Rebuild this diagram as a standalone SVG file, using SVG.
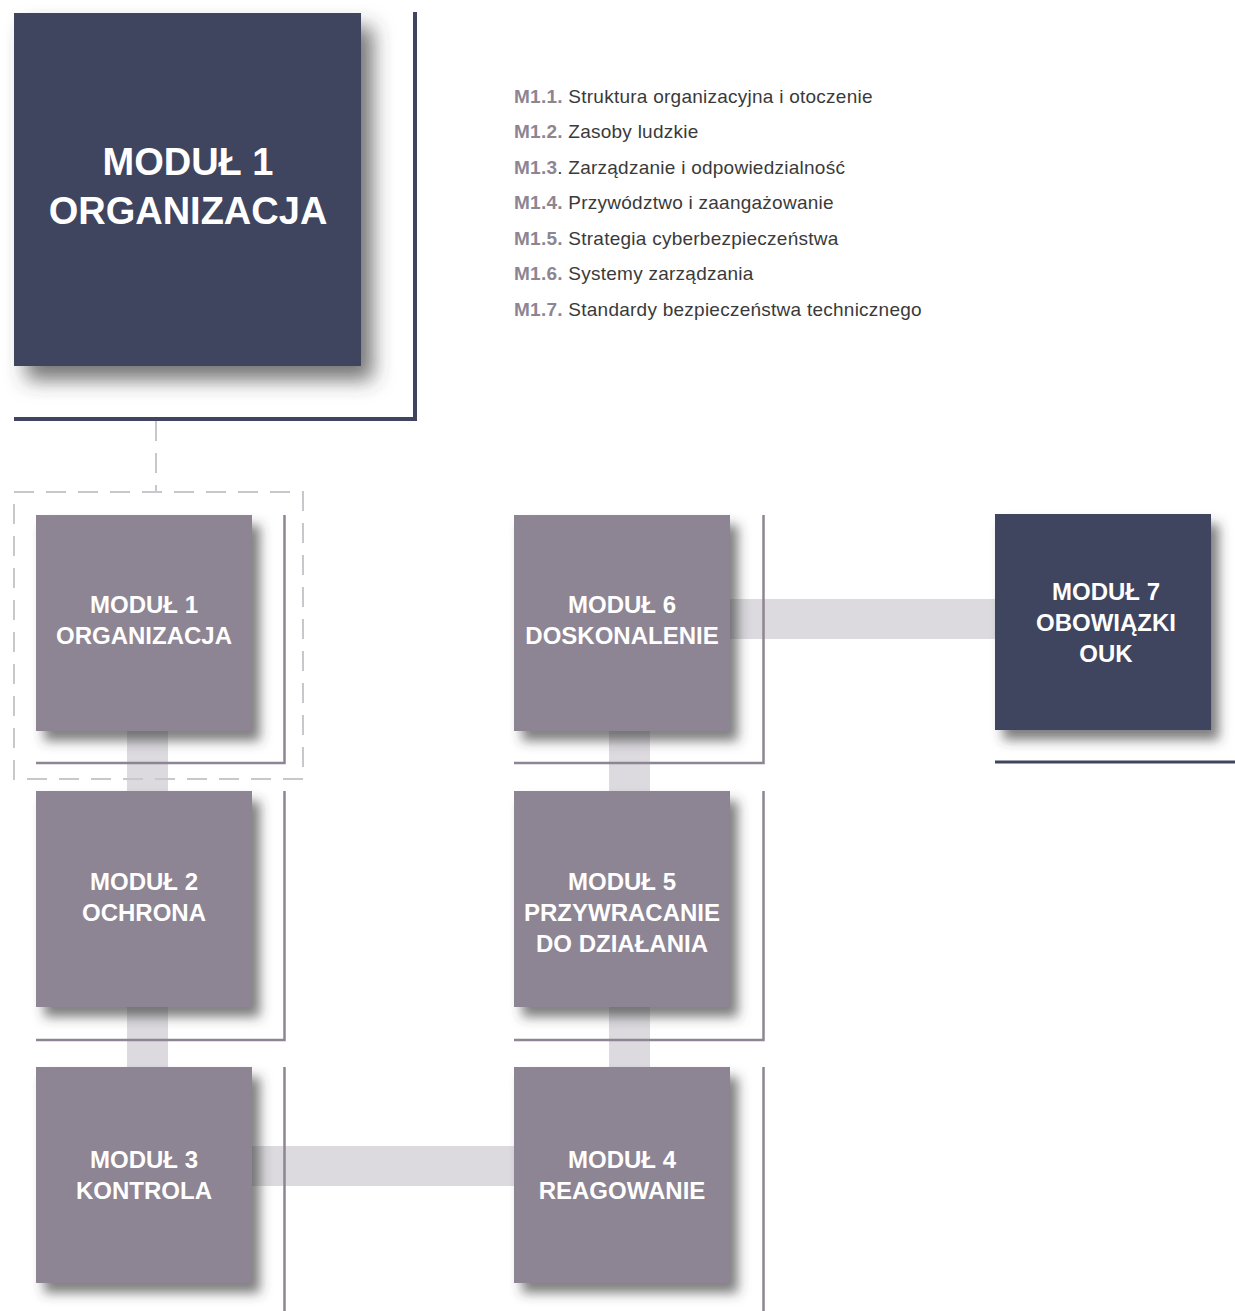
<svg xmlns="http://www.w3.org/2000/svg" width="1235" height="1311" viewBox="0 0 1235 1311">
<defs>
<filter id="shBig" x="-20%" y="-20%" width="150%" height="150%">
<feDropShadow dx="12" dy="14" stdDeviation="10" flood-color="#3a3a3a" flood-opacity="0.7"/>
</filter>
<filter id="sh" x="-20%" y="-20%" width="150%" height="150%">
<feDropShadow dx="8" dy="10" stdDeviation="6" flood-color="#3a3a3a" flood-opacity="0.65"/>
</filter>
</defs>
<style>
.navy{fill:#40445f}
.gray{fill:#8d8593}
.bar{fill:#dcdadf}
.fnavy{fill:none;stroke:#40445f;stroke-width:4}
.fgray{fill:none;stroke:#8d8593;stroke-width:2.5}
.dash{fill:none;stroke:#c9c7cc;stroke-width:2;stroke-dasharray:20 12}
.t{font-family:"Liberation Sans",Arial,sans-serif;font-weight:bold;fill:#ffffff;text-anchor:middle}
.tb{font-size:38px}
.ts{font-size:24px}
.li{font-family:"Liberation Sans",Arial,sans-serif;font-size:19px;letter-spacing:0.25px;fill:#3a3a3a}
.lk{font-weight:bold;fill:#8d8593}
</style>
<rect width="1235" height="1311" fill="#ffffff"/>

<g id="connectors">
<rect class="bar" x="127" y="725" width="41" height="72"/>
<rect class="bar" x="127" y="1000" width="41" height="72"/>
<rect class="bar" x="245" y="1146" width="275" height="40"/>
<rect class="bar" x="609" y="725" width="41" height="72"/>
<rect class="bar" x="609" y="1000" width="41" height="72"/>
<rect class="bar" x="724" y="599" width="277" height="40"/>
<path class="dash" d="M156 421 V492"/>
<rect class="dash" x="14" y="492" width="289" height="287"/>
</g>

<g id="frames">
<path class="fnavy" d="M415 12 V419 H14"/>
<path class="fgray" d="M284.5 515 V763 H36"/>
<path class="fgray" d="M284.5 791 V1040 H36"/>
<path class="fgray" d="M284.5 1067 V1311"/>
<path class="fgray" d="M763.5 515 V763 H514"/>
<path class="fgray" d="M763.5 791 V1040 H514"/>
<path class="fgray" d="M763.5 1067 V1311"/>
<path class="fnavy" d="M995 762 H1235" style="stroke-width:3"/>
</g>

<g id="module1-main">
<rect class="navy" x="14" y="13" width="347" height="353" filter="url(#shBig)"/>
<text class="t tb" x="188" y="175">MODUŁ 1</text>
<text class="t tb" x="188" y="224">ORGANIZACJA</text>
</g>

<g id="module1-list">
<text class="li" x="514" y="103"><tspan class="lk">M1.1.</tspan> Struktura organizacyjna i otoczenie</text>
<text class="li" x="514" y="138"><tspan class="lk">M1.2.</tspan> Zasoby ludzkie</text>
<text class="li" x="514" y="174"><tspan class="lk">M1.3</tspan>. Zarządzanie i odpowiedzialność</text>
<text class="li" x="514" y="209"><tspan class="lk">M1.4.</tspan> Przywództwo i zaangażowanie</text>
<text class="li" x="514" y="245"><tspan class="lk">M1.5.</tspan> Strategia cyberbezpieczeństwa</text>
<text class="li" x="514" y="280"><tspan class="lk">M1.6.</tspan> Systemy zarządzania</text>
<text class="li" x="514" y="316"><tspan class="lk">M1.7.</tspan> Standardy bezpieczeństwa technicznego</text>
</g>

<g id="module1">
<rect class="gray" x="36" y="515" width="216" height="216" filter="url(#sh)"/>
<text class="t ts" x="144" y="613">MODUŁ 1</text>
<text class="t ts" x="144" y="644">ORGANIZACJA</text>
</g>

<g id="module2">
<rect class="gray" x="36" y="791" width="216" height="216" filter="url(#sh)"/>
<text class="t ts" x="144" y="890">MODUŁ 2</text>
<text class="t ts" x="144" y="921">OCHRONA</text>
</g>

<g id="module3">
<rect class="gray" x="36" y="1067" width="216" height="216" filter="url(#sh)"/>
<text class="t ts" x="144" y="1168">MODUŁ 3</text>
<text class="t ts" x="144" y="1199">KONTROLA</text>
</g>

<g id="module4">
<rect class="gray" x="514" y="1067" width="216" height="216" filter="url(#sh)"/>
<text class="t ts" x="622" y="1168">MODUŁ 4</text>
<text class="t ts" x="622" y="1199">REAGOWANIE</text>
</g>

<g id="module5">
<rect class="gray" x="514" y="791" width="216" height="216" filter="url(#sh)"/>
<text class="t ts" x="622" y="890">MODUŁ 5</text>
<text class="t ts" x="622" y="921">PRZYWRACANIE</text>
<text class="t ts" x="622" y="952">DO DZIAŁANIA</text>
</g>

<g id="module6">
<rect class="gray" x="514" y="515" width="216" height="216" filter="url(#sh)"/>
<text class="t ts" x="622" y="613">MODUŁ 6</text>
<text class="t ts" x="622" y="644">DOSKONALENIE</text>
</g>

<g id="module7">
<rect class="navy" x="995" y="514" width="216" height="216" filter="url(#sh)"/>
<text class="t ts" x="1106" y="600">MODUŁ 7</text>
<text class="t ts" x="1106" y="631">OBOWIĄZKI</text>
<text class="t ts" x="1106" y="662">OUK</text>
</g>
</svg>
